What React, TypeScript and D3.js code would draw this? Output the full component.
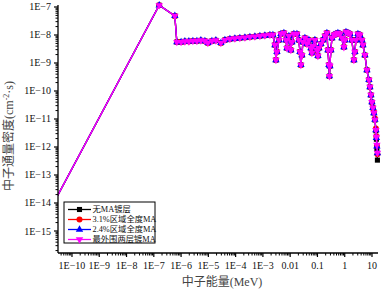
import React from 'react';
import * as d3 from 'd3';

// Neutron energy (MeV)
const energyMeV = [
  1e-11, 1.58e-7, 5.9e-7, 7.0e-7, 1.0e-6, 1.38e-6, 1.93e-6, 2.71e-6, 3.8e-6, 5.32e-6,
  7.46e-6, 9.6e-6, 1.35e-5, 1.89e-5, 2.88e-5, 4.04e-5, 6.17e-5, 9.4e-5, 1.43e-4, 2.19e-4,
  3.34e-4, 5.09e-4, 7.76e-4, 1.18e-3, 1.81e-3, 2.33e-3, 2.75e-3, 3.0e-3, 3.26e-3, 3.86e-3,
  4.57e-3, 5.89e-3, 6.97e-3, 7.59e-3, 8.97e-3, 1.06e-2, 1.16e-2, 1.37e-2, 1.77e-2, 2.09e-2,
  2.28e-2, 2.47e-2, 2.69e-2, 2.93e-2, 3.47e-2, 4.1e-2, 4.86e-2, 5.75e-2, 6.27e-2, 6.82e-2,
  8.07e-2, 9.55e-2, 0.104, 0.113, 0.134, 0.158, 0.188, 0.222, 0.242, 0.263,
  0.275, 0.286, 0.312, 0.339, 0.402, 0.475, 0.562, 0.667, 0.789, 0.933,
  1.02, 1.11, 1.31, 1.55, 1.84, 2.17, 2.36, 2.57, 3.05, 3.61,
  4.27, 4.65, 5.5, 6.51, 7.71, 8.39, 9.12, 9.93, 10.8, 11.7,
  12.8, 13.9, 14.5, 15.1, 15.8,
];

// Neutron flux density, one array per case
const fluxNoMA = [
  2.5e-15, 1.15e-7, 4.8e-8, 5.6e-9, 5.6e-9, 5.9e-9, 5.9e-9, 6.1e-9, 6.1e-9, 6.4e-9,
  6.1e-9, 5.2e-9, 6.1e-9, 6.4e-9, 5.2e-9, 6.6e-9, 7.2e-9, 7.5e-9, 7.8e-9, 8.1e-9,
  8.5e-9, 8.8e-9, 9.2e-9, 9.6e-9, 1.0e-8, 1.0e-8, 4.4e-9, 1.28e-9, 2.5e-9, 6.6e-9,
  1.09e-8, 1.18e-8, 6.6e-9, 3.4e-9, 9.2e-9, 2.9e-9, 5.6e-9, 1.09e-8, 1.09e-8, 6.6e-9,
  2.5e-9, 8.5e-10, 1.9e-9, 5.6e-9, 7.8e-9, 4.8e-9, 6.6e-9, 3.4e-9, 2.3e-9, 4.0e-9,
  6.6e-9, 2.9e-9, 1.8e-9, 3.4e-9, 4.8e-9, 6.6e-9, 9.2e-9, 1.18e-8, 2.9e-9, 8.5e-10,
  3.4e-10, 7.8e-10, 2.9e-9, 7.8e-9, 1.0e-8, 1.09e-8, 1.18e-8, 1.09e-8, 7.8e-9, 3.7e-9,
  6.6e-9, 1.28e-8, 1.18e-8, 1.09e-8, 6.6e-9, 1.28e-9, 2.5e-9, 6.6e-9, 1.09e-8, 1.0e-8,
  6.6e-9, 4.4e-9, 1.9e-9, 5.6e-10, 2.5e-10, 1.39e-10, 7.2e-11, 4.0e-11, 2.5e-11, 1.64e-11,
  9.2e-12, 3.8e-12, 1.9e-12, 8.5e-13, 3.4e-13,
];
const flux31MA = [
  2.5e-15, 1.15e-7, 4.8e-8, 5.6e-9, 5.6e-9, 5.9e-9, 5.9e-9, 6.1e-9, 6.1e-9, 6.4e-9,
  6.1e-9, 5.2e-9, 6.1e-9, 6.4e-9, 5.2e-9, 6.6e-9, 7.2e-9, 7.5e-9, 7.8e-9, 8.1e-9,
  8.5e-9, 8.8e-9, 9.2e-9, 9.6e-9, 1.0e-8, 1.0e-8, 4.4e-9, 1.28e-9, 2.5e-9, 6.6e-9,
  1.09e-8, 1.18e-8, 6.6e-9, 3.4e-9, 9.2e-9, 2.9e-9, 5.6e-9, 1.09e-8, 1.09e-8, 6.6e-9,
  2.5e-9, 8.5e-10, 1.9e-9, 5.6e-9, 7.8e-9, 4.8e-9, 6.6e-9, 3.4e-9, 2.3e-9, 4.0e-9,
  6.6e-9, 2.9e-9, 1.8e-9, 3.4e-9, 4.8e-9, 6.6e-9, 9.2e-9, 1.18e-8, 2.9e-9, 8.5e-10,
  3.4e-10, 7.8e-10, 2.9e-9, 7.8e-9, 1.0e-8, 1.09e-8, 1.18e-8, 1.09e-8, 7.8e-9, 3.7e-9,
  6.6e-9, 1.28e-8, 1.18e-8, 1.09e-8, 6.6e-9, 1.28e-9, 2.5e-9, 6.6e-9, 1.09e-8, 1.0e-8,
  6.6e-9, 4.4e-9, 1.9e-9, 5.6e-10, 2.5e-10, 1.39e-10, 7.2e-11, 4.0e-11, 2.5e-11, 1.8e-11,
  1.05e-11, 4.6e-12, 2.4e-12, 1.1e-12, 5.5e-13,
];
const flux24MA = [
  2.5e-15, 1.15e-7, 4.8e-8, 5.6e-9, 5.6e-9, 5.9e-9, 5.9e-9, 6.1e-9, 6.1e-9, 6.4e-9,
  6.1e-9, 5.2e-9, 6.1e-9, 6.4e-9, 5.2e-9, 6.6e-9, 7.2e-9, 7.5e-9, 7.8e-9, 8.1e-9,
  8.5e-9, 8.8e-9, 9.2e-9, 9.6e-9, 1.0e-8, 1.0e-8, 4.4e-9, 1.28e-9, 2.5e-9, 6.6e-9,
  1.09e-8, 1.18e-8, 6.6e-9, 3.4e-9, 9.2e-9, 2.9e-9, 5.6e-9, 1.09e-8, 1.09e-8, 6.6e-9,
  2.5e-9, 8.5e-10, 1.9e-9, 5.6e-9, 7.8e-9, 4.8e-9, 6.6e-9, 3.4e-9, 2.3e-9, 4.0e-9,
  6.6e-9, 2.9e-9, 1.8e-9, 3.4e-9, 4.8e-9, 6.6e-9, 9.2e-9, 1.18e-8, 2.9e-9, 8.5e-10,
  3.4e-10, 7.8e-10, 2.9e-9, 7.8e-9, 1.0e-8, 1.09e-8, 1.18e-8, 1.09e-8, 7.8e-9, 3.7e-9,
  6.6e-9, 1.28e-8, 1.18e-8, 1.09e-8, 6.6e-9, 1.28e-9, 2.5e-9, 6.6e-9, 1.09e-8, 1.0e-8,
  6.6e-9, 4.4e-9, 1.9e-9, 5.6e-10, 2.5e-10, 1.39e-10, 7.2e-11, 4.0e-11, 2.5e-11, 1.64e-11,
  9.5e-12, 4.0e-12, 2.1e-12, 1.05e-12, 6.1e-13,
];
const fluxOuterMA = [
  2.5e-15, 1.15e-7, 4.8e-8, 5.6e-9, 5.6e-9, 5.9e-9, 5.9e-9, 6.1e-9, 6.1e-9, 6.4e-9,
  6.1e-9, 5.2e-9, 6.1e-9, 6.4e-9, 5.2e-9, 6.6e-9, 7.2e-9, 7.5e-9, 7.8e-9, 8.1e-9,
  8.5e-9, 8.8e-9, 9.2e-9, 9.6e-9, 1.0e-8, 1.0e-8, 4.4e-9, 1.28e-9, 2.5e-9, 6.6e-9,
  1.09e-8, 1.18e-8, 6.6e-9, 3.4e-9, 9.2e-9, 2.9e-9, 5.6e-9, 1.09e-8, 1.09e-8, 6.6e-9,
  2.5e-9, 8.5e-10, 1.9e-9, 5.6e-9, 7.8e-9, 4.8e-9, 6.6e-9, 3.4e-9, 2.3e-9, 4.0e-9,
  6.6e-9, 2.9e-9, 1.8e-9, 3.4e-9, 4.8e-9, 6.6e-9, 9.2e-9, 1.18e-8, 2.9e-9, 8.5e-10,
  3.4e-10, 7.8e-10, 2.9e-9, 7.8e-9, 1.0e-8, 1.09e-8, 1.18e-8, 1.09e-8, 7.8e-9, 3.7e-9,
  6.6e-9, 1.28e-8, 1.18e-8, 1.09e-8, 6.6e-9, 1.28e-9, 2.5e-9, 6.6e-9, 1.09e-8, 1.0e-8,
  6.6e-9, 4.4e-9, 1.9e-9, 5.6e-10, 2.5e-10, 1.39e-10, 7.2e-11, 4.0e-11, 2.5e-11, 1.64e-11,
  9.2e-12, 4.0e-12, 2.3e-12, 1.18e-12, 6.1e-13,
];

const seriesNames = ['无MA镀层', '3.1%区域全度MA', '2.4%区域全度MA', '最外围两层镀MA'];
const seriesColors = ['#000000', '#ff0000', '#0000ff', '#ff00ff'];
const seriesSymbols = ['square', 'circle', 'triangleUp', 'triangleDown'];

const xTickValues = [1e-10, 1e-9, 1e-8, 1e-7, 1e-6, 1e-5, 1e-4, 1e-3, 1e-2, 0.1, 1, 10];
const xTickLabels = ['1E−10', '1E−9', '1E−8', '1E−7', '1E−6', '1E−5', '1E−4', '1E−3', '0.01', '0.1', '1', '10'];
const yTickValues = [1e-7, 1e-8, 1e-9, 1e-10, 1e-11, 1e-12, 1e-13, 1e-14, 1e-15];
const yTickLabels = ['1E−7', '1E−8', '1E−9', '1E−10', '1E−11', '1E−12', '1E−13', '1E−14', '1E−15'];

const xTitle = '中子能量(MeV)';
const yTitle = '中子通量密度(cm';

const FONT = "'Liberation Serif', 'Times New Roman', 'Noto Sans CJK SC', serif";

function symbolPath(kind: string): { d: string; rot: number } {
  if (kind === 'square') return { d: d3.symbol().type(d3.symbolSquare).size(26)() as string, rot: 0 };
  if (kind === 'circle') return { d: d3.symbol().type(d3.symbolCircle).size(28)() as string, rot: 0 };
  if (kind === 'triangleUp') return { d: d3.symbol().type(d3.symbolTriangle).size(24)() as string, rot: 0 };
  return { d: d3.symbol().type(d3.symbolTriangle).size(24)() as string, rot: 180 };
}

export default function App() {
  const L = 58, R = 378, T = 5, B = 253;
  const x = d3.scaleLog().domain([3.07e-11, 16.6]).range([L, R]);
  const y = d3.scaleLog().domain([1.638e-16, 1.178e-7]).range([B, T]);
  const seriesData = [fluxNoMA, flux31MA, flux24MA, fluxOuterMA];

  const line = d3.line<number>()
    .x((_, i) => x(energyMeV[i]))
    .y((d) => y(d));

  const xMinor = x.ticks(60).filter((t) => !xTickValues.some((v) => Math.abs(v - t) / v < 1e-6));
  const yMinor = y.ticks(60).filter((t) => !yTickValues.some((v) => Math.abs(v - t) / v < 1e-6));

  const legendX = 64, legendY = 202, legendW = 91, legendH = 41;
  const legendRows = seriesNames.map((_, i) => legendY + 7.5 + i * 10);

  return (
    <svg width={382} height={292} style={{ position: 'absolute', left: 0, top: 0, background: '#fff' }}
      fontFamily={FONT}>
      <defs>
        <clipPath id="plotClip">
          <rect x={L} y={0} width={382 - L} height={B} />
        </clipPath>
      </defs>

      {/* data */}
      <g clipPath="url(#plotClip)">
        {seriesData.map((vals, si) => {
          const sym = symbolPath(seriesSymbols[si]);
          return (
            <g key={si}>
              <path d={line(vals) as string} fill="none" stroke={seriesColors[si]} strokeWidth={1.3} />
              {vals.map((v, i) => (
                <path key={i} d={sym.d} fill={seriesColors[si]}
                  transform={`translate(${x(energyMeV[i])},${y(v)}) rotate(${sym.rot})`} />
              ))}
            </g>
          );
        })}
      </g>

      {/* axes */}
      <line x1={L} x2={R} y1={B} y2={B} stroke="#000" strokeWidth={1.3} />
      <line x1={L} x2={L} y1={T} y2={B} stroke="#000" strokeWidth={1.3} />
      {xMinor.map((t, i) => (
        <line key={'xm' + i} x1={x(t)} x2={x(t)} y1={B} y2={B + 2.5} stroke="#000" strokeWidth={1} />
      ))}
      {xTickValues.map((t, i) => (
        <g key={'xt' + i}>
          <line x1={x(t)} x2={x(t)} y1={B} y2={B + 4} stroke="#000" strokeWidth={1.2} />
          <text x={x(t)} y={269} textAnchor="middle" fontSize={10} fill="#111">{xTickLabels[i]}</text>
        </g>
      ))}
      {yMinor.map((t, i) => (
        <line key={'ym' + i} x1={L} x2={L - 2.5} y1={y(t)} y2={y(t)} stroke="#000" strokeWidth={1} />
      ))}
      {yTickValues.map((t, i) => (
        <g key={'yt' + i}>
          <line x1={L} x2={L - 4} y1={y(t)} y2={y(t)} stroke="#000" strokeWidth={1.2} />
          <text x={51} y={y(t)} dy="0.35em" textAnchor="end" fontSize={10} fill="#111">{yTickLabels[i]}</text>
        </g>
      ))}

      {/* axis titles */}
      <text x={222} y={286} textAnchor="middle" fontSize={12} fill="#444">{xTitle}</text>
      <text transform="translate(13,136) rotate(-90)" textAnchor="middle" fontSize={12} fill="#444">
        {yTitle}<tspan dy={-4} fontSize={8}>-2</tspan><tspan dy={4}>·s)</tspan>
      </text>

      {/* legend */}
      <rect x={legendX} y={legendY} width={legendW} height={legendH} fill="#fff" stroke="#000" strokeWidth={1} />
      {seriesNames.map((name, i) => {
        const sym = symbolPath(seriesSymbols[i]);
        const cy = legendRows[i];
        return (
          <g key={'lg' + i}>
            <line x1={68} x2={91} y1={cy} y2={cy} stroke={seriesColors[i]} strokeWidth={1.3} />
            <path d={sym.d} fill={seriesColors[i]} transform={`translate(79.5,${cy}) rotate(${sym.rot})`} />
            <text x={92.5} y={cy} dy="0.35em" fontSize={8.3} fill="#111">{name}</text>
          </g>
        );
      })}
    </svg>
  );
}
